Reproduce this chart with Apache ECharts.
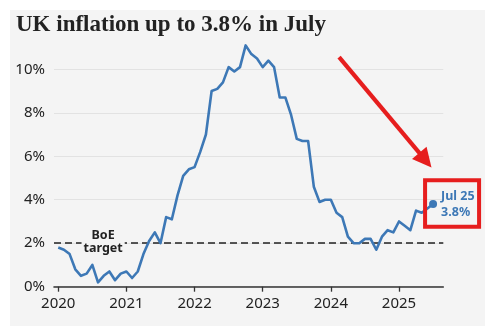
<!DOCTYPE html>
<html>
<head>
<meta charset="utf-8">
<script src="https://cdn.jsdelivr.net/npm/echarts@6/dist/echarts.min.js"></script>
<style>
  html, body { margin: 0; padding: 0; background: #ffffff; }
  #wrap { position: relative; width: 497px; height: 326px; overflow: hidden; }
  #panel { position: absolute; left: 10px; top: 10px; width: 475px; height: 316px; background: #f4f4f4; }
  #chart { position: absolute; left: 0; top: 0; width: 497px; height: 326px; }
</style>
</head>
<body>
<div id="wrap">
  <div id="panel"></div>
  <div id="chart"></div>
</div>
<script>
// UK CPI annual inflation rate (%), monthly from January 2020 to July 2025
const startYear = 2020;
const cpiValues = [
  1.8, 1.7, 1.5, 0.8, 0.5, 0.6, 1.0, 0.2, 0.5, 0.7, 0.3, 0.6,   // 2020
  0.7, 0.4, 0.7, 1.5, 2.1, 2.5, 2.0, 3.2, 3.1, 4.2, 5.1, 5.4,   // 2021
  5.5, 6.2, 7.0, 9.0, 9.1, 9.4, 10.1, 9.9, 10.1, 11.1, 10.7, 10.5, // 2022
  10.1, 10.4, 10.1, 8.7, 8.7, 7.9, 6.8, 6.7, 6.7, 4.6, 3.9, 4.0, // 2023
  4.0, 3.4, 3.2, 2.3, 2.0, 2.0, 2.2, 2.2, 1.7, 2.3, 2.6, 2.5,   // 2024
  3.0, 2.8, 2.6, 3.5, 3.4, 3.6, 3.8                             // 2025
];
const yearTicks = [2020, 2021, 2022, 2023, 2024, 2025];
const percentTicks = [0, 2, 4, 6, 8, 10];
const targetRate = 2;
const targetLabel = 'BoE\ntarget';
const latestLabel = 'Jul 25';
const titleText = 'UK inflation up to 3.8% in July';

const LINE_BLUE = '#3d78b6';
const ALERT_RED = '#e61e1e';
const PANEL_BG = '#f4f4f4';
const SANS = '"Noto Sans", "Open Sans", sans-serif';

// x is months since January of startYear
const lineData = cpiValues.map((v, i) => [i, v]);
const lastIndex = cpiValues.length - 1;
const latestPoint = [lastIndex, cpiValues[lastIndex]];
const monthTicks = yearTicks.map(y => (y - startYear) * 12);

const chart = echarts.init(document.getElementById('chart'), null, { renderer: 'canvas' });

chart.setOption({
  animation: false,
  backgroundColor: 'transparent',
  title: {
    text: titleText,
    left: 11,
    top: 9,
    textStyle: {
      fontFamily: '"Liberation Serif", serif',
      fontWeight: 'bold',
      fontSize: 23,
      color: '#222222'
    }
  },
  grid: { left: 54, right: 53.7, top: 36.7, bottom: 39.3 },
  xAxis: {
    type: 'value',
    min: -0.75,
    max: 67.8,
    axisLine: { show: true, lineStyle: { color: '#333333', width: 1.6 } },
    axisTick: { show: true, length: 5, customValues: monthTicks, lineStyle: { color: '#333333', width: 1.3 } },
    axisLabel: {
      customValues: monthTicks,
      formatter: v => String(startYear + Math.round(v / 12)),
      fontFamily: SANS,
      fontSize: 15,
      color: '#222222',
      margin: 10
    },
    splitLine: { show: false }
  },
  yAxis: {
    type: 'value',
    min: 0,
    max: 11.5,
    axisLine: { show: false },
    axisTick: { show: false, customValues: percentTicks },
    axisLabel: {
      customValues: percentTicks,
      formatter: v => v + '%',
      fontFamily: SANS,
      fontSize: 15,
      color: '#222222',
      margin: 9
    },
    splitLine: { show: true, lineStyle: { color: '#e2e2e2', width: 1 } }
  },
  series: [
    {
      type: 'line',
      data: lineData,
      showSymbol: false,
      symbol: 'none',
      z: 4,
      lineStyle: { color: LINE_BLUE, width: 2.6, join: 'round' },
      markLine: {
        silent: true,
        symbol: 'none',
        z: 2,
        label: { show: false },
        lineStyle: { color: '#222222', type: [7, 4], width: 1.5 },
        data: [{ yAxis: targetRate }]
      }
    },
    {
      // target label masking the dashed line behind it
      type: 'scatter',
      data: [[7.9, targetRate]],
      symbolSize: 0,
      z: 3,
      silent: true,
      itemStyle: { opacity: 1 },
      label: {
        show: true,
        position: 'inside',
        formatter: targetLabel,
        fontFamily: SANS,
        fontWeight: 'bold',
        fontSize: 12.5,
        lineHeight: 13,
        color: '#222222',
        backgroundColor: PANEL_BG,
        padding: [0, 2],
        offset: [0, -1.5]
      }
    },
    {
      // latest reading
      type: 'scatter',
      data: [latestPoint],
      symbol: 'circle',
      symbolSize: 8,
      z: 5,
      itemStyle: { color: LINE_BLUE, opacity: 1 },
      label: {
        show: true,
        position: 'right',
        distance: 4,
        formatter: p => latestLabel + '\n' + p.value[1].toFixed(1) + '%',
        fontFamily: SANS,
        fontWeight: 'bold',
        fontSize: 12.5,
        lineHeight: 16,
        color: LINE_BLUE,
        offset: [0, 0.5]
      }
    }
  ]
});

// Highlight box and pointer arrow anchored on the latest reading
const p = chart.convertToPixel({ gridIndex: 0 }, latestPoint);
const tip = [p[0] - 1.6, p[1] - 36.6];
const start = [p[0] - 94, p[1] - 147];
const dx = tip[0] - start[0], dy = tip[1] - start[1];
const len = Math.sqrt(dx * dx + dy * dy);
const d = [dx / len, dy / len];
const n = [-d[1], d[0]];
const headLen = 19, headHalf = 9.5;
const base = [tip[0] - headLen * d[0], tip[1] - headLen * d[1]];

chart.setOption({
  graphic: [
    {
      type: 'rect',
      z: 100,
      shape: { x: p[0] - 8, y: p[1] - 23.8, width: 54, height: 46.5 },
      style: { fill: null, stroke: ALERT_RED, lineWidth: 4 }
    },
    {
      type: 'line',
      z: 100,
      shape: { x1: start[0], y1: start[1], x2: base[0] + 3 * d[0], y2: base[1] + 3 * d[1] },
      style: { stroke: ALERT_RED, lineWidth: 4.2 }
    },
    {
      type: 'polygon',
      z: 100,
      shape: {
        points: [
          tip,
          [base[0] + headHalf * n[0], base[1] + headHalf * n[1]],
          [base[0] - headHalf * n[0], base[1] - headHalf * n[1]]
        ]
      },
      style: { fill: ALERT_RED }
    }
  ]
});
</script>
</body>
</html>
